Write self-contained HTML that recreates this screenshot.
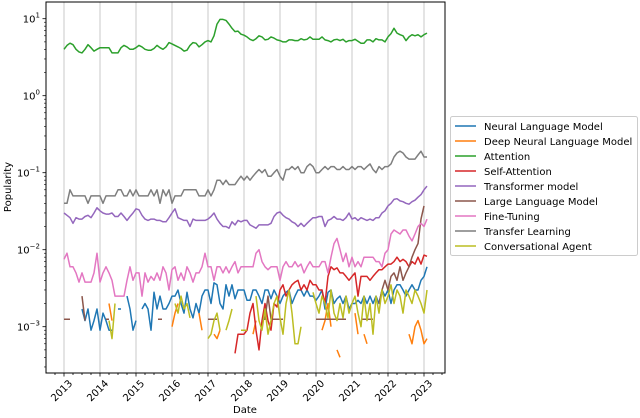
<!DOCTYPE html>
<html><head><meta charset="utf-8"><style>
body{margin:0;background:#fff;}
svg{display:block;font-family:"DejaVu Sans","Liberation Sans",sans-serif;}
</style></head><body>
<svg id="chart" width="640" height="418" viewBox="0 0 640 418"></svg>
<script>
const seriesNames=["Neural Language Model","Deep Neural Language Model","Attention","Self-Attention","Transformer model","Large Language Model","Fine-Tuning","Transfer Learning","Conversational Agent"];
const seriesColors=["#1f77b4","#ff7f0e","#2ca02c","#d62728","#9467bd","#8c564b","#e377c2","#7f7f7f","#bcbd22"];
const yearTicks=[2013,2014,2015,2016,2017,2018,2019,2020,2021,2022,2023];
const yExps=[-3,-2,-1,0,1];
const N=null;
// monthly values starting 2013-01
const attention=[4.0,4.5,4.8,4.6,4.0,3.7,3.6,4.0,4.6,4.2,3.8,4.0, 4.2,4.2,4.2,4.2,3.6,3.6,3.6,4.2,4.5,4.3,4.0,4.0, 4.2,4.5,4.3,4.0,3.9,3.9,4.1,4.5,4.2,4.0,4.3,4.9, 4.7,4.5,4.3,4.1,3.8,3.9,4.5,4.9,4.8,4.3,4.6,5.0, 5.2,5.0,6.0,8.5,9.8,9.8,9.5,8.5,7.5,6.8,6.9,6.3, 6.1,5.8,5.4,5.2,5.5,6.0,5.8,5.3,5.4,5.8,5.6,5.3, 5.2,5.0,5.0,5.3,5.3,5.2,5.2,5.5,5.3,5.4,5.8,5.4, 5.4,5.4,5.8,5.3,5.2,5.0,5.3,5.4,5.2,5.4,5.0,5.2, 5.2,5.4,5.1,4.8,4.8,5.3,5.3,5.0,5.5,5.3,5.3,5.0, 5.8,6.4,7.5,6.5,6.2,6.0,5.2,5.8,6.2,6.0,6.2,5.8, 6.2,6.5];
const transferLearning=[.04,.04,.06,.05,.05,.05,.05,.05,.04,.05,.05,.05, .05,.04,.05,.05,.05,.05,.06,.06,.05,.05,.06,.05, .06,.05,.05,.05,.05,.06,.05,.06,.04,.06,.05,.06, .04,.05,.05,.05,.06,.06,.06,.06,.06,.05,.05,.05, .06,.05,.06,.08,.08,.07,.08,.07,.07,.07,.08,.09, .08,.09,.08,.09,.10,.11,.10,.11,.09,.09,.10,.11, .09,.08,.11,.11,.12,.11,.12,.10,.10,.12,.13,.12, .10,.10,.11,.12,.11,.12,.12,.11,.11,.12,.11,.11, .12,.11,.12,.12,.11,.12,.13,.11,.10,.12,.11,.12, .12,.13,.16,.18,.19,.18,.16,.15,.15,.15,.17,.19, .16,.16];
const transformer=[.030,.028,.026,.022,.026,.025,.025,.027,.028,.026,.030,.035, .032,.030,.029,.029,.030,.027,.027,.030,.027,.024,.027,.030, .034,.033,.028,.025,.024,.025,.025,.024,.024,.023,.023,.026, .030,.034,.026,.025,.024,.024,.020,.025,.024,.024,.024,.024, .025,.027,.030,.025,.022,.020,.020,.019,.023,.021,.024,.023, .024,.024,.021,.020,.019,.021,.021,.021,.021,.022,.027,.030, .031,.028,.026,.025,.023,.022,.020,.022,.020,.022,.024,.026, .026,.027,.027,.020,.024,.025,.027,.025,.025,.024,.026,.030, .025,.026,.024,.026,.025,.024,.025,.024,.026,.026,.030,.032, .037,.040,.045,.046,.043,.042,.040,.039,.042,.044,.048,.052, .060,.067];
const fineTuning=[.0075,.009,.006,.006,.005,.0038,.005,.0038,.0038,.0038,.005,.009, .0038,.005,.006,.005,.004,.0025,.0025,.0025,.0025,.004,.006,.004, .005,.005,.0025,.005,.0038,.0045,.004,.005,.004,.006,.005,.003, .0055,.006,.004,.005,.004,.006,.005,.0038,.005,.005,.006,.009, .006,.006,.004,.006,.006,.005,.006,.005,.006,.007,.005,.006, .006,.006,.006,.006,.009,.010,.007,.006,.0055,.006,.006,.006, .004,.006,.007,.006,.006,.007,.006,.0065,.005,.006,.007,.006, .006,.006,.007,.007,.005,.008,.012,.014,.010,.007,.009,.006, .008,.006,.007,.006,.008,.008,.008,.008,.007,.007,.006,.009, .010,.016,.018,.017,.016,.018,.018,.015,.013,.016,.020,.022, .020,.025];
const selfAttention=[N,N,N,N,N,N,N,N,N,N,N,N, N,N,N,N,N,N,N,N,N,N,N,N, N,N,N,N,N,N,N,N,N,N,N,N, N,N,N,N,N,N,N,N,N,N,N,N, N,N,N,N,N,N,N,N,N,.00045,.0008,.0008, .0008,.0009,.0015,.0020,.0009,.0005,.0012,.0020,.0012,.0009,.0020,.0018, .0030,.0035,.0025,.0030,.0035,.0038,.0040,.0030,.0035,.0030,.0040,.0035, .0035,.0030,.0030,.0020,.0045,.0060,.0055,.0058,.0050,.0050,.0045,.0040, .0045,.0050,.0025,.0045,.0045,.0045,.0040,.0045,.0050,.0055,.0055,.0060, .0065,.0065,.0070,.0080,.0070,.0075,.0070,.0060,.0070,.0065,.0080,.0065, .0085,.0082];
const neuralLM=[N,N,N,N,N,N,.0017,.0012,.0017,.0009,.0012,.0017, .0009,.0015,.0012,.0009,.0009,N,.0017,.0017,N,.0025,.0017,.0009, .0012,N,.0017,.0020,.0017,.0009,.0028,.0017,.0025,.0017,.0017,.0020, .0025,.0025,.0030,.0020,.0015,.0028,.0017,.0013,.0020,.0015,.0025,.0030, .0030,.0020,.0037,.0035,.0020,.0017,.0035,.0025,.0035,.0023,.0030,.0030, .0030,.0022,.0022,.0030,.0030,.0025,.0020,.0030,.0030,.0023,.0030,.0025, .0020,.0025,.0028,.0030,.0020,.0025,.0030,.0030,.0025,.0030,.0025,.0025, .0022,.0025,.0030,.0017,.0028,.0030,.0020,.0023,.0025,.0020,.0025,.0017, .0020,.0020,.0022,.0020,.0025,.0020,.0025,.0020,.0025,.0020,.0030,.0025, .0030,.0020,.0030,.0035,.0035,.0030,.0025,.0030,.0035,.0030,.0030,.0040, .0045,.0060];
const largeLM=[.00125,.00125,.00125,N,N,N,.0025,.0012,N,N,N,N, N,N,.00125,.00125,N,N,N,N,N,N,N,N, N,N,N,N,N,N,N,N,.00125,N,N,N, N,N,N,N,N,N,N,N,N,N,N,N, .00125,.00125,.00125,.00125,N,N,N,N,N,N,N,N, N,N,N,N,N,N,.00125,.00125,.0025,.00125,.00125,.00125, .00125,.00125,N,N,N,N,N,N,N,N,N,N, .00125,.00125,.00125,.00125,.00125,.00125,.00125,.00125,.00125,.00125,.00125,N, N,N,N,.00125,.00125,.00125,.00125,.00125,N,.002,.003,.004, .003,.0045,.005,.004,.006,.004,.005,.006,.008,.010,.012,.025, .037,N];
const deepNLM=[N,N,N,N,N,N,N,N,N,N,N,N, N,N,N,.002,.0012,N,N,N,N,N,N,N, N,N,N,N,N,N,N,N,N,N,N,N, .0010,.0015,.0020,N,N,N,N,N,N,.0015,.0009,N, N,N,.0008,.0007,.0009,N,N,N,N,N,N,N, N,N,N,.0008,.0012,N,N,N,N,N,N,N, N,N,N,N,N,N,N,N,N,N,N,N, N,N,.0009,.0012,.0020,.0010,N,.0005,.0004,N,N,N, N,.0015,.0008,N,.0008,.0006,N,N,N,N,N,N, N,N,N,N,N,N,N,.0008,.0006,.0010,.0012,.0009, .0006,.0007];
const convAgent=[N,N,N,N,N,N,N,N,N,N,N,N, N,N,N,.0012,.0007,.0020,N,N,N,N,N,N, N,N,N,N,N,N,N,N,N,N,N,N, N,.0020,.0015,.0025,.0017,.0020,.0013,N,N,N,N,N, .0007,.0008,.0012,.0015,.0009,N,.0009,.0012,.0017,N,N,.0009, .0009,.0009,N,N,.0025,.0012,.0009,.0017,.0008,.0012,.0020,.0025, .0013,.0008,.0020,.0030,.0015,.0006,.0006,.0010,N,N,N,.0028, .0020,.0015,.0025,.0020,.0013,.0030,.0015,.0012,.0020,.0013,.0025,.0015, .0020,.0025,.0015,.0010,.0025,.0012,.0020,.0008,.0025,.0015,.0030,.0020, .0025,.0035,.0020,.0030,.0025,.0015,.0030,.0025,.0020,.0030,.0025,.0020, .0015,.0030];
const seriesData=[neuralLM,deepNLM,attention,selfAttention,transformer,largeLM,fineTuning,transferLearning,convAgent];

const NS="http://www.w3.org/2000/svg";
const svg=document.getElementById('chart');
const L=46,R=445,T=2,B=373;
function xScale(i){return 64+(i/12)*36;}
function yScale(v){return 326.7-(Math.log10(v)+3)*77;}
function mk(tag,attrs,parent){const e=document.createElementNS(NS,tag);for(const k in attrs)e.setAttribute(k,attrs[k]);(parent||svg).appendChild(e);return e;}

yearTicks.forEach((y,k)=>{
  const x=xScale((y-2013)*12);
  const g=mk('line',{x1:x,x2:x,y1:T,y2:B,stroke:'#c8c8c8','stroke-width':1});
  
  
});
seriesData.forEach((arr,s)=>{
  let d='',pen=false;
  arr.forEach((v,i)=>{
    if(v==null){pen=false;return;}
    d+=(pen?'L':'M')+xScale(i).toFixed(1)+','+yScale(v).toFixed(1);pen=true;
  });
  arr.forEach((v,i)=>{
    if(v!=null&&arr[i-1]==null&&arr[i+1]==null){d+='M'+(xScale(i)-2).toFixed(1)+','+yScale(v).toFixed(1)+'h4';}
  });
  const p=mk('path',{d:d,fill:'none',stroke:seriesColors[s],'stroke-width':1.5,'stroke-linejoin':'round'});
  
  
});
const fr=mk('rect',{x:L,y:T,width:R-L,height:B-T,fill:'none',stroke:'#000','stroke-width':1});


for(let q=-1;q<=42;q++){
  const x=xScale(q*3);
  if(x<L||x>R)continue;
  const major=q%4===0;
  mk('line',{x1:x,x2:x,y1:B,y2:B+(major?3.5:2),stroke:'#000','stroke-width':0.8});
}
yearTicks.forEach(y=>{
  const x=xScale((y-2013)*12)+9;
  const yy=B+11;
  const t=mk('text',{x:x,y:yy,'font-size':10,'text-anchor':'end',transform:`rotate(-45 ${x} ${yy})`});
  t.textContent=y;
  
  
});
yExps.forEach(e=>{
  const y=yScale(Math.pow(10,e));
  mk('line',{x1:L-3.5,x2:L,y1:y,y2:y,stroke:'#000','stroke-width':0.8});
  for(let m=2;m<=9;m++){const ym=yScale(m*Math.pow(10,e));if(ym>T&&ym<B)mk('line',{x1:L-2,x2:L,y1:ym,y2:ym,stroke:'#000','stroke-width':0.6});}
  const t=mk('text',{x:L-6,y:y+4,'font-size':10,'text-anchor':'end'});
  t.innerHTML='10<tspan dy="-5" font-size="7">'+(e<0?'\u2212'+(-e):e)+'</tspan>';
  
  
});
for(let m=3;m<=9;m++){const ym=yScale(m*1e-4);if(ym<B)mk('line',{x1:L-2,x2:L,y1:ym,y2:ym,stroke:'#000','stroke-width':0.6});}
let t=mk('text',{x:245,y:413,'font-size':10,'text-anchor':'middle'});t.textContent='Date';


t=mk('text',{x:11,y:187,'font-size':10,'text-anchor':'middle',transform:'rotate(-90 11 187)'});t.textContent='Popularity';


const lg=mk('g',{});


mk('rect',{x:450.5,y:116.5,width:187,height:139,rx:2,fill:'#fff',stroke:'#ccc','stroke-width':1},lg);
seriesNames.forEach((n,s)=>{
  const y=126+s*15;
  const g=mk('g',{},lg);
  
  
  mk('line',{x1:455,x2:476,y1:y,y2:y,stroke:seriesColors[s],'stroke-width':1.5},g);
  const tx=mk('text',{x:484,y:y+3.8,'font-size':10},g);tx.textContent=n;
});
</script>
</body></html>
